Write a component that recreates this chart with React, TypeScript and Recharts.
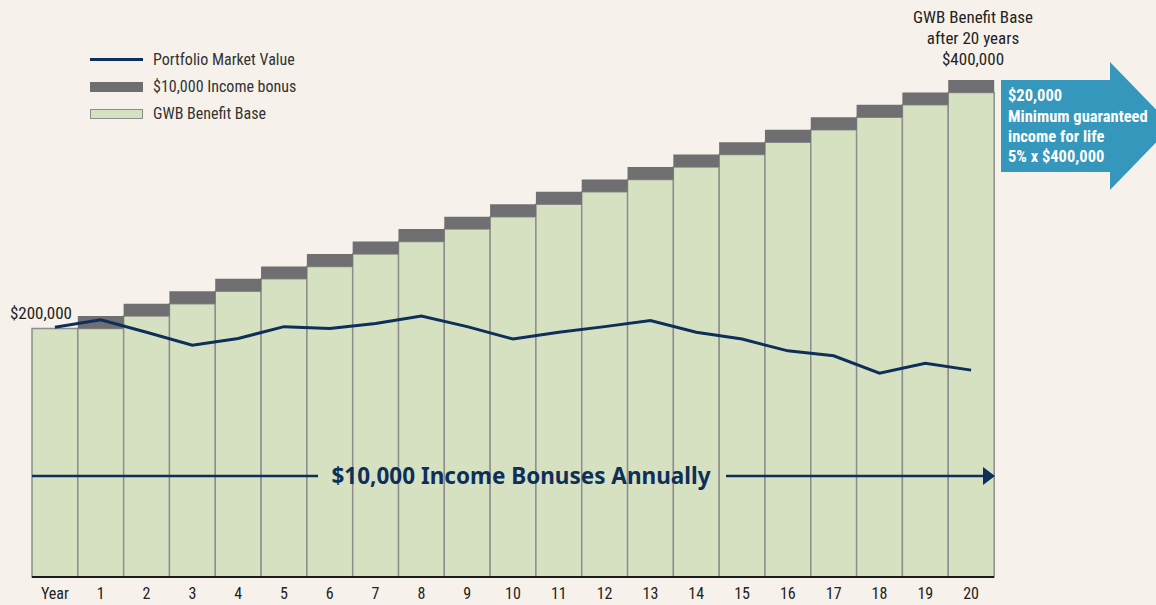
import { Bar, ComposedChart, Line, XAxis, YAxis } from "recharts";

const years = ["Year", "1", "2", "3", "4", "5", "6", "7", "8", "9", "10", "11", "12", "13", "14", "15", "16", "17", "18", "19", "20"];
const benefitBase = [200000, 200000, 210000, 220000, 230000, 240000, 250000, 260000, 270000, 280000, 290000, 300000, 310000, 320000, 330000, 340000, 350000, 360000, 370000, 380000, 390000];
const incomeBonus = [0, 10000, 10000, 10000, 10000, 10000, 10000, 10000, 10000, 10000, 10000, 10000, 10000, 10000, 10000, 10000, 10000, 10000, 10000, 10000, 10000];
const portfolioValue = [201000, 207000, 197000, 186500, 192000, 201500, 200000, 204000, 210000, 201500, 191500, 197000, 201500, 206500, 197000, 191500, 182000, 178000, 164000, 172000, 166500];

const data = years.map((year, i) => ({
  year,
  base: benefitBase[i],
  bonus: incomeBonus[i],
  portfolio: portfolioValue[i],
}));

const FONT = "'Liberation Sans Narrow', 'Roboto Condensed', Roboto, sans-serif";
const BOLD_FONT = "'Noto Sans', 'Open Sans', sans-serif";
const NAVY = "#0d2f5a";
const GREEN = "#d6e1c2";
const GREY = "#6f6f71";
const BORDER = "#8d8d8d";

const legendItems = [
  { label: "Portfolio Market Value", kind: "line" },
  { label: "$10,000 Income bonus", kind: "bonus" },
  { label: "GWB Benefit Base", kind: "base" },
];

function ChartLegend() {
  return (
    <div style={{ position: "absolute", left: 90, top: 46, fontFamily: FONT, fontSize: 16, color: "#333" }}>
      {legendItems.map((item) => (
        <div key={item.label} style={{ display: "flex", alignItems: "center", height: 27 }}>
          <svg width={63} height={14}>
            {item.kind === "line" && <rect x={0} y={5} width={53} height={3} fill={NAVY} />}
            {item.kind === "bonus" && <rect x={0} y={2} width={53} height={10} fill={GREY} />}
            {item.kind === "base" && <rect x={0.5} y={2.5} width={52} height={9} fill={GREEN} stroke={BORDER} />}
          </svg>
          <span>{item.label}</span>
        </div>
      ))}
    </div>
  );
}

export default function App() {
  return (
    <div style={{ position: "relative", width: 1156, height: 605, background: "#f6f2eb", overflow: "hidden" }}>
      <style>{"body{margin:0}"}</style>
      <ComposedChart
        width={1156}
        height={605}
        data={data}
        margin={{ top: 80, right: 162, bottom: 0, left: 32 }}
        barCategoryGap={0}
        barGap={0}
      >
        <XAxis
          dataKey="year"
          height={28}
          axisLine={{ stroke: "#1a1a1a", strokeWidth: 2 }}
          tickLine={false}
          tick={{ fill: "#222", fontSize: 16, fontFamily: FONT }}
          tickMargin={5}
          interval={0}
        />
        <YAxis hide domain={[0, 400000]} />
        <Bar dataKey="base" stackId="gwb" fill={GREEN} stroke={BORDER} strokeWidth={1.5} isAnimationActive={false} />
        <Bar dataKey="bonus" stackId="gwb" fill={GREY} stroke={GREY} strokeWidth={0} isAnimationActive={false} />
        <Line
          type="linear"
          dataKey="portfolio"
          stroke={NAVY}
          strokeWidth={3}
          dot={false}
          isAnimationActive={false}
        />
      </ComposedChart>

      <ChartLegend />

      <svg
        width={1156}
        height={605}
        style={{ position: "absolute", left: 0, top: 0, pointerEvents: "none" }}
        fontFamily={FONT}
      >
        <text x={72} y={319} textAnchor="end" fontSize={17} fill="#222">$200,000</text>

        <text x={973} y={23} textAnchor="middle" fontSize={17} fill="#222">GWB Benefit Base</text>
        <text x={973} y={44} textAnchor="middle" fontSize={17} fill="#222">after 20 years</text>
        <text x={973} y={65} textAnchor="middle" fontSize={17} fill="#222">$400,000</text>

        <polygon points="1001,80 1110,80 1110,62 1172,126 1110,190 1110,172 1001,172" fill="#3597bb" />
        <g fill="#ffffff" fontSize={16.5} fontWeight="bold">
          <text x={1008} y={101}>$20,000</text>
          <text x={1008} y={122}>Minimum guaranteed</text>
          <text x={1008} y={142}>income for life</text>
          <text x={1008} y={162}>5% x $400,000</text>
        </g>

        <line x1={32} y1={476} x2={318} y2={476} stroke={NAVY} strokeWidth={2.5} />
        <line x1={726} y1={476} x2={986} y2={476} stroke={NAVY} strokeWidth={2.5} />
        <polygon points="983,467 995,476 983,485" fill={NAVY} />
        <text x={521} y={484} textAnchor="middle" fontSize={22.5} fontWeight="bold" fill={NAVY} fontFamily={BOLD_FONT}>
          $10,000 Income Bonuses Annually
        </text>
      </svg>
    </div>
  );
}
